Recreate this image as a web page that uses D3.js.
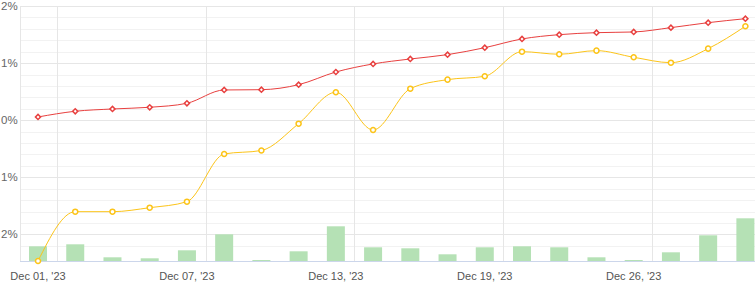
<!DOCTYPE html>
<html>
<head>
<meta charset="utf-8">
<script src="https://cdn.jsdelivr.net/npm/d3@7"></script>
<style>
  body { margin: 0; background: #fff; }
  svg { display: block; font-family: "Liberation Sans", Arial, sans-serif; }
</style>
</head>
<body>
<svg id="chart"></svg>
<script>
// trading days, Dec 2023
const dates = ["2023-12-01","2023-12-04","2023-12-05","2023-12-06","2023-12-07",
  "2023-12-08","2023-12-11","2023-12-12","2023-12-13","2023-12-14",
  "2023-12-15","2023-12-18","2023-12-19","2023-12-20","2023-12-21",
  "2023-12-22","2023-12-26","2023-12-27","2023-12-28","2023-12-29"];
const labelDates = ["2023-12-01","2023-12-07","2023-12-13","2023-12-19","2023-12-26"];

// percent series
const redSeries = [0.056,0.156,0.196,0.226,0.296,0.529,0.534,0.622,0.844,0.985,
  1.072,1.148,1.270,1.423,1.498,1.533,1.545,1.621,1.708,1.778];
const yellowSeries = [-2.467,-1.603,-1.603,-1.533,-1.428,-0.592,-0.531,-0.061,0.489,-0.172,
  0.552,0.710,0.769,1.200,1.155,1.218,1.102,1.007,1.253,1.645];
// bars (volume-like, arbitrary units)
const barValues = [14.7,16.7,3.7,2.7,10.7,26.7,1,9.7,34.7,13.7,
  12.7,6.7,13.7,14.7,13.7,3.7,1,8.7,25.7,42.7];
const yTicks = [2,1,0,-1,-2];

const width = 755, height = 287;
const plotTop = 6, plotBottom = 261, plotLeft = 19.4;
const step = 37.23;

const svg = d3.select("#chart").attr("width", width).attr("height", height);

const x = d3.scaleBand().domain(dates).range([plotLeft, plotLeft + step * dates.length]).padding(0);
const cx = (d) => x(d) + x.bandwidth() / 2;

const y = d3.scaleLinear()
  .domain([d3.min(yellowSeries), 2])
  .range([plotBottom, plotTop]);

const yBar = d3.scaleLinear().domain([0, plotBottom - plotTop]).range([plotBottom, plotTop]);

// minor grid
const minor = d3.range(-2.2, 2.01, 0.2).filter((v) => Math.abs(v - Math.round(v)) > 0.01);
svg.append("g").selectAll("line").data(minor).join("line")
  .attr("x1", 20).attr("x2", width)
  .attr("y1", (d) => Math.round(y(d)) + 0.5).attr("y2", (d) => Math.round(y(d)) + 0.5)
  .attr("stroke", "#f2f2f2");

// major grid
svg.append("g").selectAll("line").data(yTicks).join("line")
  .attr("x1", 20).attr("x2", width)
  .attr("y1", (d) => Math.round(y(d)) + 0.5).attr("y2", (d) => Math.round(y(d)) + 0.5)
  .attr("stroke", "#e6e6e6");

// vertical grid
svg.append("g").selectAll("line").data(labelDates).join("line")
  .attr("x1", (d) => Math.round(x(d) + step) + 0.5).attr("x2", (d) => Math.round(x(d) + step) + 0.5)
  .attr("y1", plotTop).attr("y2", plotBottom)
  .attr("stroke", "#e6e6e6");

svg.append("line")
  .attr("x1", 20.5).attr("x2", 20.5).attr("y1", plotTop).attr("y2", plotBottom)
  .attr("stroke", "#e6e6e6");

// y labels
svg.append("g").selectAll("text").data(yTicks).join("text")
  .attr("x", 1).attr("y", (d) => y(d))
  .attr("dy", "0.35em")
  .attr("font-size", 11.5)
  .attr("fill", "#666")
  .text((d) => Math.abs(d) + "%");

// bars
const bw = 18;
svg.append("g").selectAll("rect").data(barValues).join("rect")
  .attr("x", (d, i) => cx(dates[i]) - bw / 2)
  .attr("y", (d) => yBar(d))
  .attr("width", bw)
  .attr("height", (d) => plotBottom - yBar(d))
  .attr("fill", "#b5e1b5");

// baseline
svg.append("line")
  .attr("x1", 20).attr("x2", width).attr("y1", plotBottom + 0.5).attr("y2", plotBottom + 0.5)
  .attr("stroke", "#ccd6eb");

// x labels
const fmt = d3.timeFormat("%b %d, '%y");
const parse = d3.timeParse("%Y-%m-%d");
svg.append("g").selectAll("text").data(labelDates).join("text")
  .attr("x", (d) => cx(d)).attr("y", 280)
  .attr("text-anchor", "middle")
  .attr("font-size", 11)
  .attr("fill", "#555")
  .text((d) => fmt(parse(d)));

// lines
const line = d3.line()
  .x((d, i) => cx(dates[i]))
  .y((d) => y(d))
  .curve(d3.curveMonotoneX);

function drawSeries(values, color, symbol, size, rot) {
  svg.append("path").datum(values)
    .attr("d", line)
    .attr("fill", "none")
    .attr("stroke", color)
    .attr("stroke-width", 1);
  svg.append("g").selectAll("path").data(values).join("path")
    .attr("transform", (d, i) => `translate(${cx(dates[i])},${y(d)}) rotate(${rot})`)
    .attr("d", d3.symbol(symbol, size))
    .attr("fill", "#fff")
    .attr("stroke", color)
    .attr("stroke-width", 1.5);
}

drawSeries(yellowSeries, "#fcc419", d3.symbolCircle, 20, 0);
drawSeries(redSeries, "#e8403f", d3.symbolSquare, 13, 45);
</script>
</body>
</html>
